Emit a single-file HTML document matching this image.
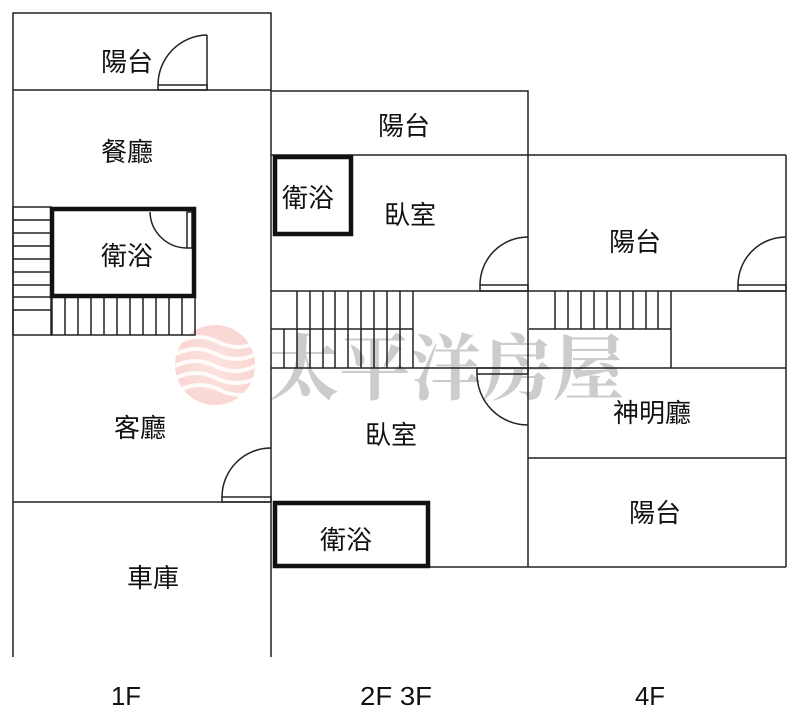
<!DOCTYPE html>
<html><head><meta charset="utf-8"><style>
html,body{margin:0;padding:0;background:#fff;}
svg{display:block}
text{font-family:"Liberation Sans","Noto Sans CJK TC",sans-serif;fill:#111;}
</style></head><body>
<svg width="800" height="728" viewBox="0 0 800 728" xmlns="http://www.w3.org/2000/svg">
<defs>
<radialGradient id="lg" cx="0.5" cy="0.5" r="0.5">
<stop offset="0" stop-color="#f8c4bc"/><stop offset="1" stop-color="#f2a49c"/>
</radialGradient>
</defs>
<circle cx="215" cy="365" r="40" fill="url(#lg)" opacity="0.45"/>
<g stroke="#fff" stroke-width="4" fill="none" opacity="0.9">
<path d="M178 342 q20 -10 40 0 t40 0"/>
<path d="M176 354 q20 -10 40 0 t40 0"/>
<path d="M175 366 q20 -10 40 0 t40 0"/>
<path d="M176 378 q20 -10 40 0 t40 0"/>
<path d="M180 390 q20 -10 40 0 t40 0"/>
</g>
<text x="268" y="394" style="font-family:'Liberation Serif','Noto Serif CJK SC',serif;font-weight:bold;fill:#c4c4c4;opacity:0.85" font-size="72" textLength="356" lengthAdjust="spacingAndGlyphs">太平洋房屋</text>

<g stroke="#222" stroke-width="1.5" fill="none">
<polyline points="13,657 13,13 271,13 271,657"/>
<line x1="13" y1="90" x2="271" y2="90"/>
<line x1="13" y1="502" x2="271" y2="502"/>
<line x1="207" y1="35" x2="207" y2="90"/>
<rect x="158" y="85" width="49" height="5"/>
<path d="M158 85 A50 50 0 0 1 207 35"/>
<rect x="222" y="497" width="49" height="5"/>
<path d="M222 497 A49 49 0 0 1 271 448"/>
<rect x="13" y="207" width="38" height="128"/>
<path d="M13 220H51M13 233H51M13 246H51M13 259H51M13 272H51M13 285H51M13 297H51M13 310H51"/>
<rect x="52" y="297" width="143" height="38"/>
<path d="M65 297V335M78 297V335M91 297V335M104 297V335M117 297V335M130 297V335M143 297V335M156 297V335M169 297V335M182 297V335"/>
<rect x="187" y="212" width="5" height="36"/>
<path d="M150 212 A37 37 0 0 0 187 248"/>

<polyline points="271,91 528,91 528,567"/>
<line x1="271" y1="155" x2="786" y2="155"/>
<line x1="271" y1="291" x2="786" y2="291"/>
<line x1="271" y1="368" x2="786" y2="368"/>
<line x1="430" y1="567" x2="786" y2="567"/>
<rect x="480" y="285" width="48" height="6"/>
<path d="M480 285 A48 48 0 0 1 528 237"/>
<line x1="271" y1="329" x2="413" y2="329"/>
<line x1="413" y1="291" x2="413" y2="368"/>
<path d="M297 291V329M310 291V329M323 291V329M335 291V329M348 291V329M361 291V329M374 291V329M387 291V329M400 291V329"/>
<path d="M284 329V368M297 329V368M310 329V368M323 329V368M335 329V368M348 329V368M361 329V368M374 329V368M387 329V368M400 329V368"/>
<rect x="477" y="368" width="51" height="6"/>
<path d="M477 374 A51 51 0 0 0 528 425"/>

<line x1="786" y1="155" x2="786" y2="567"/>
<line x1="528" y1="458" x2="786" y2="458"/>
<rect x="738" y="285" width="48" height="6"/>
<path d="M738 285 A48 48 0 0 1 786 237"/>
<line x1="529" y1="329" x2="671" y2="329"/>
<line x1="671" y1="291" x2="671" y2="368"/>
<path d="M555 291V329M568 291V329M581 291V329M594 291V329M607 291V329M620 291V329M633 291V329M646 291V329M658 291V329"/>
</g>
<g stroke="#111" stroke-width="4.5" fill="none">
<rect x="52" y="209" width="142" height="87"/>
<rect x="275" y="157" width="76" height="77"/>
<rect x="275" y="503" width="153" height="63"/>
</g>

<g font-size="26" text-anchor="middle">
<text x="127" y="71">陽台</text>
<text x="127" y="161">餐廳</text>
<text x="127" y="265">衛浴</text>
<text x="140" y="437">客廳</text>
<text x="153" y="587">車庫</text>
<text x="404" y="135">陽台</text>
<text x="308" y="207">衛浴</text>
<text x="410" y="224">臥室</text>
<text x="391" y="444">臥室</text>
<text x="346" y="549">衛浴</text>
<text x="635" y="251">陽台</text>
<text x="652" y="422">神明廳</text>
<text x="655" y="522">陽台</text>
</g>
<g font-size="26" text-anchor="middle">
<text x="126" y="705" textLength="30" lengthAdjust="spacingAndGlyphs">1F</text>
<text x="396" y="705" textLength="72" lengthAdjust="spacingAndGlyphs">2F 3F</text>
<text x="650" y="705" textLength="30" lengthAdjust="spacingAndGlyphs">4F</text>
</g>
</svg>
</body></html>
